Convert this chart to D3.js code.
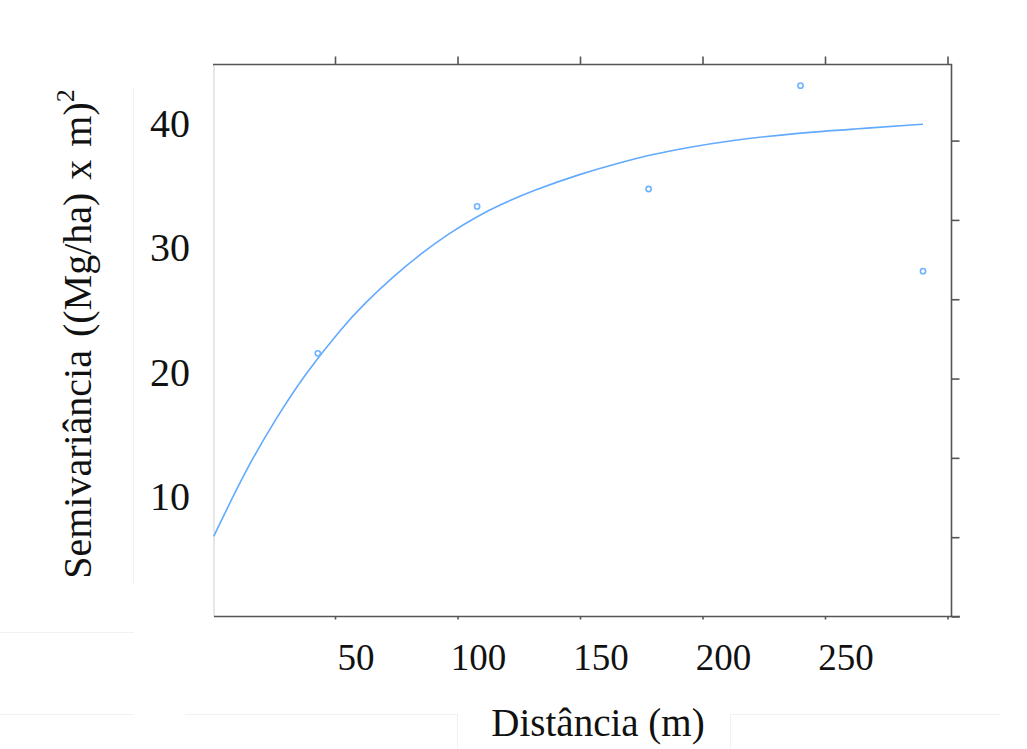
<!DOCTYPE html>
<html>
<head>
<meta charset="utf-8">
<script src="https://cdn.jsdelivr.net/npm/d3@7"></script>
<style>
    body { margin: 0; background: #fff; }
    svg { display: block; }
    text { font-family: "Liberation Serif", "Times New Roman", serif; fill: #111; }
</style>
</head>
<body>
<div id="chart"></div>
<script>

/**
 * Semivariogram - distance vs semivariance
 */

// tick values
var distTicks = [50, 100, 150, 200, 250, 300];
var distLabels = [50, 100, 150, 200, 250];
var semivarLabels = [10, 20, 30, 40];
var rightTicks = [0, 5, 10, 15, 20, 25, 30];

// experimental semivariance (points)
var lagDist = [43, 108, 178, 240, 290];
var lagGamma = [21.5, 33.3, 34.7, 43.0, 28.1];

// fitted model (line)
var modelDist = [0.5, 14, 26, 38, 53, 62, 74, 85, 97, 108, 117, 131, 150, 166, 180, 193, 211, 239, 261, 290];
var modelGamma = [6.8, 12.3, 16.3, 19.9, 23.6, 25.5, 27.7, 29.5, 31.2, 32.5, 33.4, 34.6, 35.9, 36.8, 37.5, 38.0, 38.6, 39.2, 39.5, 39.9];

var svgWidth = 1027;
var svgHeight = 749;
var frame = { left: 214, right: 951.5, top: 64.5, bottom: 616.5 };
var lineColor = '#62aaff';
var axisColor = '#555';

var svg = d3.select('#chart')
    .append('svg')
    .attr('width', svgWidth)
    .attr('height', svgHeight);

var x = d3.scaleLinear().domain([0, 300]).range([212.5, 947.5]);
var y = d3.scaleLinear().domain([0, 40]).range([621, 123]);
var yRight = d3.scaleLinear().domain([0, 30]).range([616.5, 140.6]);

// faint paste-up edges in the background
var faint = svg.append('g').attr('stroke', '#f1f1f1').attr('stroke-width', 1).attr('fill', 'none');
faint.append('path').attr('d', 'M133.5,88V584');
faint.append('path').attr('d', 'M0,632.5H134');
faint.append('path').attr('d', 'M0,714.5H134M185,714.5H457M730,714.5H1000');
faint.append('path').attr('d', 'M457.5,714V749M730.5,714V749');

// frame
svg.append('line')
    .attr('x1', frame.left).attr('x2', frame.left)
    .attr('y1', frame.top).attr('y2', frame.bottom)
    .attr('stroke', '#cfcfcf').attr('stroke-width', 1);
svg.append('path')
    .attr('d', 'M' + (frame.left - 1) + ',' + frame.top + 'H' + frame.right + 'V' + frame.bottom)
    .attr('fill', 'none').attr('stroke', axisColor).attr('stroke-width', 1.6);
svg.append('line')
    .attr('x1', frame.left).attr('x2', 960)
    .attr('y1', frame.bottom).attr('y2', frame.bottom)
    .attr('stroke', axisColor).attr('stroke-width', 1.6);

// top ticks
svg.append('g')
    .attr('transform', 'translate(0,' + frame.top + ')')
    .call(d3.axisTop(x).tickValues(distTicks).tickSize(8).tickFormat(''))
    .call(function(g) { g.select('.domain').remove(); })
    .selectAll('line').attr('stroke', axisColor).attr('stroke-width', 1.6);

// bottom ticks
svg.append('g')
    .attr('transform', 'translate(0,' + frame.bottom + ')')
    .call(d3.axisBottom(x).tickValues(distTicks).tickSize(3).tickFormat(''))
    .call(function(g) { g.select('.domain').remove(); })
    .selectAll('line').attr('stroke', axisColor).attr('stroke-width', 1.6);

// right ticks
svg.append('g')
    .attr('transform', 'translate(' + frame.right + ',0)')
    .call(d3.axisRight(yRight).tickValues(rightTicks).tickSize(8).tickFormat(''))
    .call(function(g) { g.select('.domain').remove(); })
    .selectAll('line').attr('stroke', axisColor).attr('stroke-width', 1.6);

// tick labels (pasted on, slightly off the ticks)
svg.append('g')
    .selectAll('text')
    .data(distLabels)
    .enter()
    .append('text')
    .attr('x', function(d) { return x(d) + 21; })
    .attr('y', 670)
    .attr('text-anchor', 'middle')
    .style('font-size', '37px')
    .text(function(d) { return d; });

svg.append('g')
    .selectAll('text')
    .data(semivarLabels)
    .enter()
    .append('text')
    .attr('x', 170)
    .attr('y', function(d) { return y(d) + 13.5; })
    .attr('text-anchor', 'middle')
    .style('font-size', '40px')
    .text(function(d) { return d; });

// axis titles
svg.append('text')
    .attr('x', 598)
    .attr('y', 736)
    .attr('text-anchor', 'middle')
    .style('font-size', '39px')
    .text('Distância (m)');

var yTitle = svg.append('text')
    .attr('transform', 'translate(91,334) rotate(-90)')
    .attr('text-anchor', 'middle')
    .style('font-size', '40px')
    .style('word-spacing', '3px');
yTitle.append('tspan').text('Semivariância ((Mg/ha) x m)');
yTitle.append('tspan')
    .attr('dy', -17)
    .style('font-size', '26px')
    .text('2');

// model line
var line = d3.line()
    .x(function(d, i) { return x(modelDist[i]); })
    .y(function(d) { return y(d); })
    .curve(d3.curveBasis);

svg.append('path')
    .datum(modelGamma)
    .attr('d', line)
    .attr('fill', 'none')
    .attr('stroke', lineColor)
    .attr('stroke-width', 1.6);

// experimental points
svg.append('g')
    .selectAll('circle')
    .data(lagGamma)
    .enter()
    .append('circle')
    .attr('cx', function(d, i) { return x(lagDist[i]); })
    .attr('cy', function(d) { return y(d); })
    .attr('r', 2.6)
    .attr('fill', 'none')
    .attr('stroke', '#6fb3ff')
    .attr('stroke-width', 1.6);

</script>
</body>
</html>
